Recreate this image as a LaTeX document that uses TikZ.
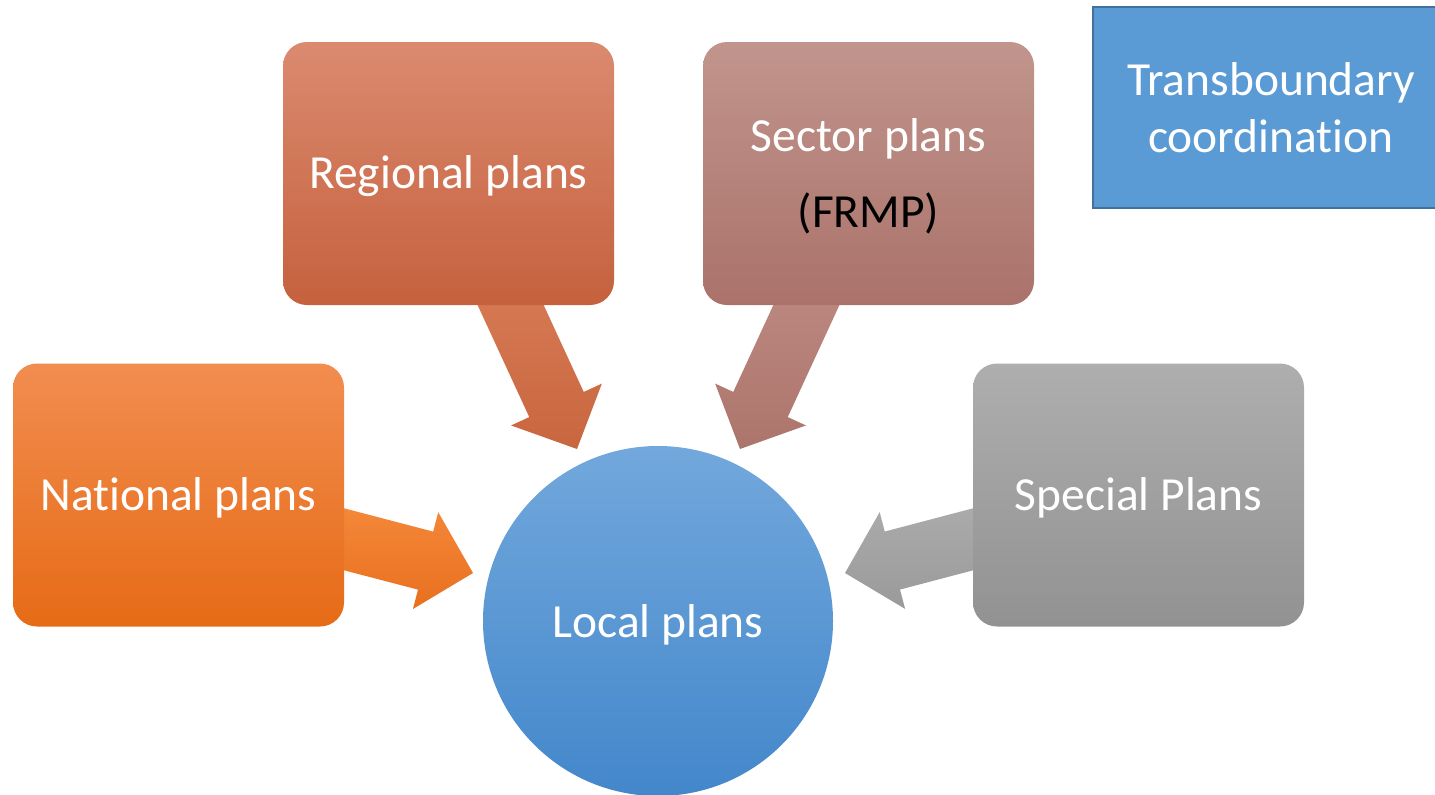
\documentclass[tikz,border=0pt]{standalone}
\usepackage{fontspec}
\setmainfont{Carlito}[Ligatures=NoCommon]
\usetikzlibrary{calc}
\definecolor{regT}{HTML}{DB8A70}\definecolor{regB}{HTML}{C5613D}
\definecolor{secT}{HTML}{C1958D}\definecolor{secB}{HTML}{AA726A}
\definecolor{natT}{HTML}{F28D50}\definecolor{natB}{HTML}{E66B16}
\definecolor{speT}{HTML}{AEAEAE}\definecolor{speB}{HTML}{929292}
\definecolor{locT}{HTML}{72A8DC}\definecolor{locB}{HTML}{4387CB}
\definecolor{trFill}{HTML}{5B9BD5}\definecolor{trLine}{HTML}{41719C}
\definecolor{regAT}{HTML}{D87C56}\definecolor{regAB}{HTML}{C8663F}
\definecolor{secAT}{HTML}{BE8A82}\definecolor{secAB}{HTML}{AC756C}
\definecolor{natAT}{HTML}{F5883A}\definecolor{natAB}{HTML}{E8701E}
\definecolor{speAT}{HTML}{ABABAB}\definecolor{speAB}{HTML}{9A9A9A}
\newcommand\blockarrow[3]{%
  \coordinate (bah) at ($(#2)!49pt!(#1)$);
  \shade[#3] ($(#1)!30pt!90:(#2)$) -- ($(bah)!30pt!90:(#2)$) -- ($(bah)!50pt!90:(#2)$)
    -- (#2) -- ($(bah)!50pt!-90:(#2)$) -- ($(bah)!30pt!-90:(#2)$) -- ($(#1)!30pt!-90:(#2)$) -- cycle;
}
\tikzset{
  planbox/.style={shade, rounded corners=24pt, minimum width=331pt, minimum height=263pt,
    inner sep=0pt},
  lbl/.style={text=white, align=center, inner sep=0pt, font=\fontsize{47.5}{56}\selectfont},
}
\begin{document}
\begin{tikzpicture}[x=1pt,y=-1pt]
\useasboundingbox (0,0) rectangle (1435,795);
\clip (0,0) rectangle (1435,795);
% arrow coordinates
\coordinate (regS) at (500,282);   \coordinate (regTip) at (577,449);
\coordinate (secS) at (817,282);   \coordinate (secTip) at (740,449);
\coordinate (natS) at (320,533);   \coordinate (natTip) at (473,573);
\coordinate (speS) at (997,533);   \coordinate (speTip) at (845,573);
\blockarrow{regS}{regTip}{top color=regAT, bottom color=regAB}
\blockarrow{secS}{secTip}{top color=secAT, bottom color=secAB}
\blockarrow{natS}{natTip}{top color=natAT, bottom color=natAB}
\blockarrow{speS}{speTip}{top color=speAT, bottom color=speAB}
% boxes
\node[planbox, top color=regT, bottom color=regB] (reg) at (448.5,173.5) {};
\node[planbox, top color=secT, bottom color=secB] (sec) at (868.5,173.5) {};
\node[planbox, top color=natT, bottom color=natB] (nat) at (178.5,495) {};
\node[planbox, top color=speT, bottom color=speB] (spe) at (1138.5,495) {};
\node[shade, circle, top color=locT, bottom color=locB, minimum size=350pt, inner sep=0pt] (loc) at (658,621) {};
\node[draw=trLine, line width=2pt, fill=trFill, minimum width=356pt, minimum height=201pt,
  inner sep=0pt] (tr) at (1271,107.5) {};
% labels
\node[lbl] (regL) at ($(reg.center)+(0,3)$) {Regional plans};
\node[lbl] (secL) at ($(sec.center)+(0,3)$) {Sector plans\\[20pt]\textcolor{black}{(FRMP)}};
\node[lbl] (natL) at ($(nat.center)+(0,3)$) {National plans};
\node[lbl] (speL) at ($(spe.center)+(0,3)$) {Special Plans};
\node[lbl] (locL) at ($(loc.center)+(0,4)$) {Local plans};
\node[lbl, font=\fontsize{47.5}{57}\selectfont] (trL) at (tr.center) {Transboundary\\coordination};
\end{tikzpicture}
\end{document}
